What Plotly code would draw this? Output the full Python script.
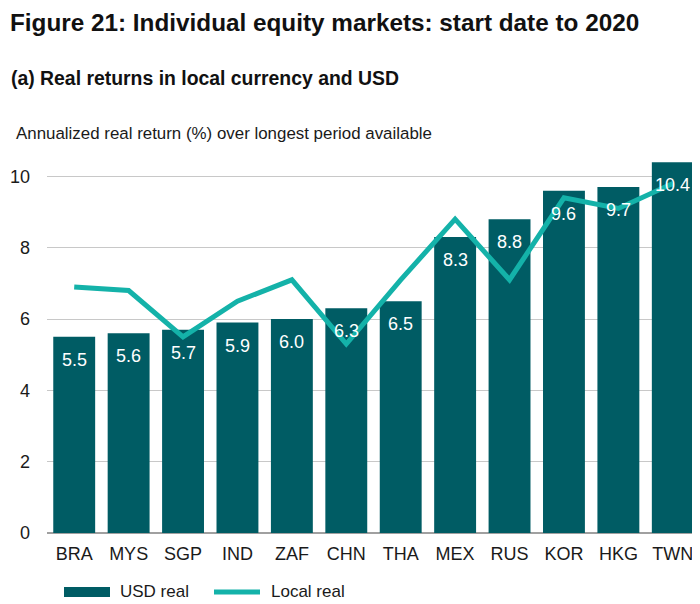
import plotly.graph_objects as go

categories = ["BRA", "MYS", "SGP", "IND", "ZAF", "CHN", "THA", "MEX", "RUS", "KOR", "HKG", "TWN"]
usd_real = [5.5, 5.6, 5.7, 5.9, 6.0, 6.3, 6.5, 8.3, 8.8, 9.6, 9.7, 10.4]
local_real = [6.9, 6.8, 5.5, 6.5, 7.1, 5.3, 7.1, 8.8, 7.1, 9.4, 9.1, 9.8]
y_ticks = [0, 2, 4, 6, 8, 10]
series_names = ["USD real", "Local real"]

BAR = "#005c64"
LINE = "#14b2a9"
FONT = "Liberation Sans, Arial, sans-serif"
TXT = "#1a1a1a"

# page has an 8px body margin; figure is sized/positioned to compensate
OFF = 8
W, H = 700 - OFF, 604 - OFF
ML, MR, MT, MB = 47 - OFF, 0, 155 - OFF, 604 - 533
PW, PH = W - ML - MR, H - MT - MB


def px(x):
    return (x - OFF - ML) / PW


def py(y):
    return (H - MB - (y - OFF)) / PH


fig = go.Figure()
fig.add_trace(go.Bar(
    x=categories, y=usd_real, name=series_names[0],
    marker=dict(color=BAR, line=dict(width=0)),
    showlegend=False, hoverinfo="x+y",
))
fig.add_trace(go.Scatter(
    x=categories, y=local_real, name=series_names[1], mode="lines",
    line=dict(color=LINE, width=5), showlegend=False,
))

annotations = [
    dict(text="<b>Figure 21: Individual equity markets: start date to 2020</b>",
         xref="paper", yref="paper", x=px(8), y=py(23), xanchor="left", yanchor="middle",
         showarrow=False, font=dict(size=24.3, color="#111", family=FONT)),
    dict(text="<b>(a) Real returns in local currency and USD</b>",
         xref="paper", yref="paper", x=px(9), y=py(78), xanchor="left", yanchor="middle",
         showarrow=False, font=dict(size=19.4, color="#111", family=FONT)),
    dict(text="Annualized real return (%) over longest period available",
         xref="paper", yref="paper", x=px(14), y=py(133), xanchor="left", yanchor="middle",
         showarrow=False, font=dict(size=16.9, color=TXT, family=FONT)),
    dict(text=series_names[0], xref="paper", yref="paper", x=px(118), y=py(591),
         xanchor="left", yanchor="middle", showarrow=False,
         font=dict(size=17, color=TXT, family=FONT)),
    dict(text=series_names[1], xref="paper", yref="paper", x=px(269), y=py(591),
         xanchor="left", yanchor="middle", showarrow=False,
         font=dict(size=17, color=TXT, family=FONT)),
]
for c, v in zip(categories, usd_real):
    annotations.append(dict(
        x=c, y=v, xref="x", yref="y", text=f"{v:.1f}", showarrow=False,
        yanchor="middle", yshift=-23, font=dict(size=18, color="white", family=FONT)))

shapes = [
    dict(type="rect", xref="paper", yref="paper", x0=px(64), x1=px(110), y0=py(597), y1=py(587),
         fillcolor=BAR, line=dict(width=0)),
    dict(type="line", xref="paper", yref="paper", x0=px(214), x1=px(260), y0=py(592), y1=py(592),
         line=dict(color=LINE, width=5)),
]

fig.update_layout(
    width=W, height=H,
    margin=dict(l=ML, r=MR, t=MT, b=MB, autoexpand=False),
    paper_bgcolor="white", plot_bgcolor="white",
    font=dict(family=FONT, size=18, color=TXT),
    bargap=0.23,
    showlegend=False,
    xaxis=dict(showgrid=False, ticks="", tickfont=dict(size=18, color=TXT),
               showline=False, automargin=False, ticklabelstandoff=8),
    yaxis=dict(range=[0, 10.6], tickvals=y_ticks, showgrid=True, gridcolor="#c8c8c8",
               gridwidth=1, zeroline=True, zerolinecolor="#a0a0a0", zerolinewidth=2,
               ticks="", tickfont=dict(size=18, color=TXT), ticklabelstandoff=16,
               automargin=False),
    annotations=annotations,
    shapes=shapes,
)

fig.write_html("out.html")
